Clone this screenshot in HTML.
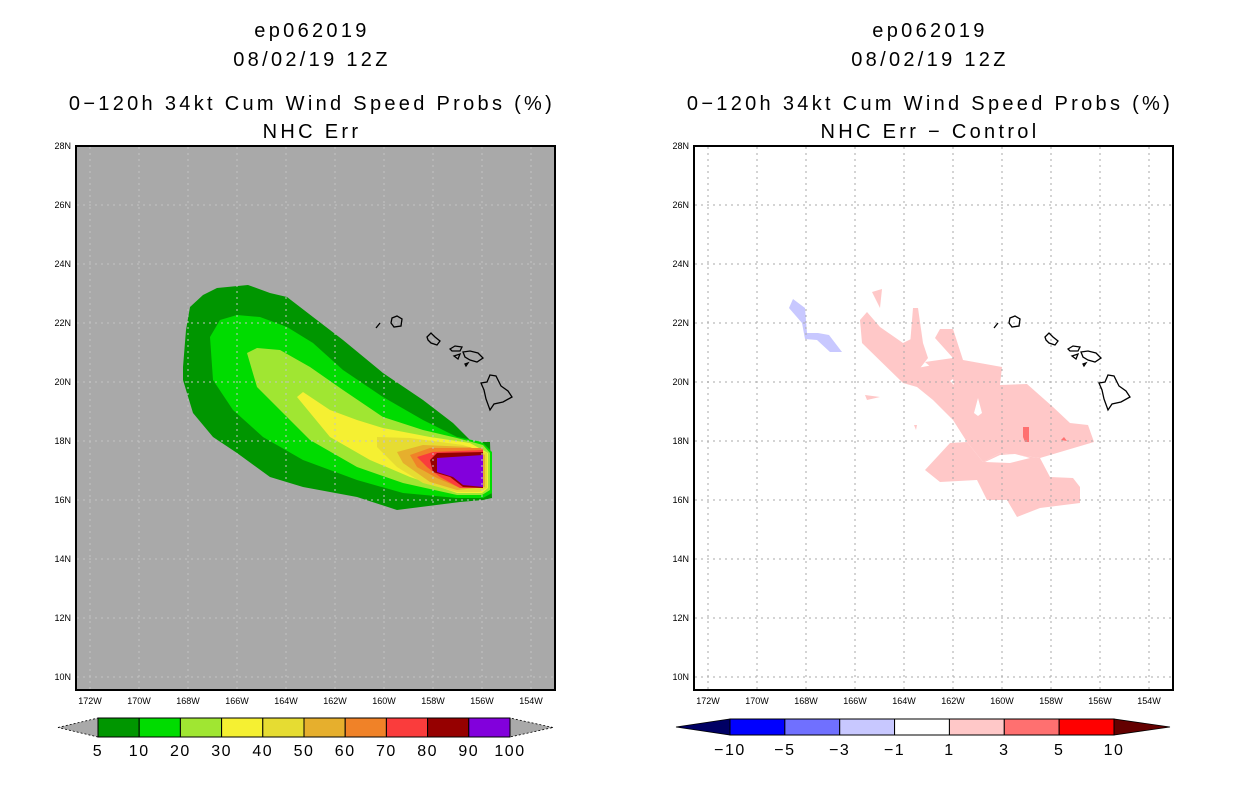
<!DOCTYPE html>
<html><head><meta charset="utf-8"><style>
body{margin:0;background:#fff;width:1236px;height:800px;overflow:hidden}
svg text{font-family:"Liberation Sans",sans-serif}
.tt{letter-spacing:3.3px}
</style></head><body>
<svg id="s" width="1236" height="800" xmlns="http://www.w3.org/2000/svg">
<g font-size="20" text-anchor="middle" fill="#000" class="tt">
<text x="312" y="37">ep062019</text>
<text x="312" y="66">08/02/19 12Z</text>
<text x="312" y="110">0−120h 34kt Cum Wind Speed Probs (%)</text>
<text x="312" y="138">NHC Err</text>
<text x="930" y="37">ep062019</text>
<text x="930" y="66">08/02/19 12Z</text>
<text x="930" y="110">0−120h 34kt Cum Wind Speed Probs (%)</text>
<text x="930" y="138">NHC Err − Control</text>
</g>
<rect x="76" y="146" width="479" height="544" fill="#a9a9a9"/>
<rect x="694" y="146" width="479" height="544" fill="#fff"/>
<g id="leftc"></g>
<g id="rightc"></g>
<g id="grid"></g>
<g id="islands" fill="none" stroke="#000" stroke-width="1.3"></g>
<rect x="76" y="146" width="479" height="544" fill="none" stroke="#000" stroke-width="2"/>
<rect x="694" y="146" width="479" height="544" fill="none" stroke="#000" stroke-width="2"/>
<g id="ticks" font-size="9"></g>
<g id="cbars"></g>
</svg>
<script>
const lonTicks=[172,170,168,166,164,162,160,158,156,154];
const latTicks=[28,26,24,22,20,18,16,14,12,10];
const probLevels=["5","10","20","30","40","50","60","70","80","90","100"];
const probColors=["#009600","#00dc00","#a0e632","#f5f032","#e6dc32","#e6af2d","#f08228","#fa3c3c","#960000","#8200dc"];
const diffLevels=["−10","−5","−3","−1","1","3","5","10"];
const diffColors=["#0000ff","#7070ff","#c8c8ff","#ffffff","#ffc8c8","#ff7070","#ff0000"];
const diffEnds=["#000064","#640000"];
const probContours=[
[[183,367],[186,330],[190,307],[203,295],[217,288],[248,285],[270,293],[287,297],[313,317],[343,340],[383,373],[423,400],[453,423],[472,442],[490,442],[492,498],[483,500],[460,502],[397,510],[357,497],[303,487],[270,477],[237,453],[213,437],[193,413],[183,380]],
[[210,337],[220,320],[237,315],[260,317],[287,327],[313,343],[343,370],[383,397],[423,420],[457,437],[482,442],[492,452],[492,493],[483,498],[457,498],[403,493],[357,480],[303,460],[263,437],[233,410],[213,380]],
[[247,353],[257,348],[280,350],[310,367],[343,390],[383,417],[423,430],[457,438],[483,445],[490,453],[490,490],[482,495],[457,495],[403,483],[357,467],[310,440],[280,410],[257,387]],
[[297,397],[303,392],[330,410],[357,420],[383,428],[430,437],[470,443],[488,453],[488,488],[482,493],[457,493],[410,477],[370,460],[330,437]],
[[377,437],[410,438],[463,445],[487,453],[487,488],[480,492],[457,492],[423,483],[397,467],[377,447]],
[[397,452],[423,445],[470,447],[485,455],[485,487],[457,490],[430,482],[403,463]],
[[410,455],[430,448],[483,448],[483,488],[460,488],[437,478],[417,467]],
[[417,457],[433,452],[483,450],[483,488],[460,488],[440,477],[427,467]],
[[430,460],[437,453],[483,452],[483,488],[463,487],[450,477],[433,472]],
[[437,458],[483,455],[483,487],[463,485],[453,477],[437,472]]];
const diffShapes=[
{c:4,p:[[860,320],[867,312],[880,327],[903,343],[913,338],[917,370],[903,383],[862,343]]},
{c:4,p:[[913,308],[918,308],[923,343],[928,358],[917,372],[910,345]]},
{c:4,p:[[935,338],[940,329],[953,329],[963,360],[1002,367],[1000,385],[960,392],[925,362],[953,358]]},
{c:4,p:[[903,383],[917,368],[960,360],[1000,385],[1027,384],[1053,407],[1070,423],[1088,425],[1094,442],[1067,450],[1040,458],[1000,453],[983,462],[967,442],[953,420],[933,400],[917,387]]},
{c:4,p:[[925,470],[950,443],[967,442],[983,462],[1000,453],[1040,458],[1050,477],[1073,478],[1080,487],[1080,503],[1040,508],[1017,517],[1007,500],[987,500],[977,480],[940,482]]},
{c:3,p:[[974,413],[978,398],[982,413],[978,416]]},
{c:3,p:[[985,462],[1000,455],[1015,454],[1030,458],[1010,463]]},
{c:3,p:[[950,381],[953,379],[954,385]]},
{c:4,p:[[872,292],[882,289],[880,308]]},{c:4,p:[[865,395],[880,397],[867,400]]},{c:4,p:[[914,425],[917,425],[916,430]]},
{c:5,p:[[1023,427],[1029,427],[1029,442],[1025,442],[1023,437]]},{c:5,p:[[1061,440],[1064,437],[1067,441]]},
{c:2,p:[[789,308],[793,299],[805,308],[807,333],[818,333],[829,335],[842,352],[830,352],[817,340],[805,339],[802,323]]}];
const islands=[[[376,328],[380,323]],[[392,318],[397,316],[402,319],[401,326],[394,327],[391,323]],
[[427,337],[431,333],[435,337],[440,341],[437,345],[431,343],[428,340]],
[[450,349],[455,346],[462,347],[460,351],[452,351]],[[454,356],[460,354],[458,359]],
[[463,352],[470,351],[478,353],[483,358],[477,362],[470,360],[465,357]],[[465,364],[468,363],[466,366]],
[[490,375],[496,376],[501,386],[508,391],[512,397],[503,402],[494,404],[490,410],[486,399],[484,390],[481,383],[487,382]]];
const S=document.getElementById('s'),NS='http://www.w3.org/2000/svg';
function mk(t,a,p){const e=document.createElementNS(NS,t);for(const k in a)e.setAttribute(k,a[k]);p.appendChild(e);return e;}
const X=w=>237+(166-w)*24.5, Y=l=>323+(22-l)*29.5;
const pts=(p,dx)=>p.map(q=>(q[0]+dx)+','+q[1]).join(' ');
const lc=document.getElementById('leftc');
probContours.forEach((p,i)=>{const e=mk('polygon',{points:pts(p,0),fill:probColors[i]},lc);

});
const rc=document.getElementById('rightc');
diffShapes.forEach((d,i)=>{const e=mk('polygon',{points:pts(d.p,0),fill:diffColors[d.c]},rc);

});
const g=document.getElementById('grid'),tk=document.getElementById('ticks');
[0,618].forEach(dx=>{
 lonTicks.forEach(w=>{const x=X(w)+dx;
  const l=mk('line',{x1:x,x2:x,y1:147,y2:689,stroke:dx?'#aaa':'#c4c4c4','stroke-dasharray':'2,4','stroke-width':1},g);
  
  
  const t=mk('text',{x:x,y:704,'text-anchor':'middle'},tk);t.textContent=w+'W';
  
  });
 latTicks.forEach(a=>{const y=Y(a);
  const l=mk('line',{x1:77+dx,x2:554+dx,y1:y,y2:y,stroke:dx?'#aaa':'#c4c4c4','stroke-dasharray':'2,4','stroke-width':1},g);
  
  
  const t=mk('text',{x:71+dx,y:y+3,'text-anchor':'end'},tk);t.textContent=a+'N';
  
  });
 const ig=document.getElementById('islands');
 islands.forEach(p=>{const e=mk('polygon',{points:pts(p,dx)},ig);
  
  });
});
const cb=document.getElementById('cbars');
{const x0=98,x1=510,w=(x1-x0)/probColors.length,y0=718,y1=737,ym=727.5;
 let e=mk('polygon',{points:`58,${ym} ${x0},${y0} ${x0},${y1}`,fill:'#a9a9a9',stroke:'#000','stroke-width':0.8,'stroke-dasharray':'2,2'},cb);
 
 
 e=mk('polygon',{points:`553,${ym} ${x1},${y0} ${x1},${y1}`,fill:'#a9a9a9',stroke:'#000','stroke-width':0.8,'stroke-dasharray':'2,2'},cb);
 
 
 probColors.forEach((c,i)=>{const r=mk('rect',{x:x0+i*w,y:y0,width:w,height:y1-y0,fill:c,stroke:'#000','stroke-width':1},cb);
  
  });
 probLevels.forEach((l,i)=>{const t=mk('text',{x:x0+i*w,y:756,'text-anchor':'middle','font-size':16,'letter-spacing':'1.5'},cb);t.textContent=l;
  
  });}
{const x0=730,x1=1114,w=(x1-x0)/diffColors.length,y0=719,y1=735,ym=727;
 let e=mk('polygon',{points:`676,${ym} ${x0},${y0} ${x0},${y1}`,fill:diffEnds[0],stroke:'#000','stroke-width':0.8},cb);
 
 
 e=mk('polygon',{points:`1170,${ym} ${x1},${y0} ${x1},${y1}`,fill:diffEnds[1],stroke:'#000','stroke-width':0.8},cb);
 
 
 diffColors.forEach((c,i)=>{const r=mk('rect',{x:x0+i*w,y:y0,width:w,height:y1-y0,fill:c,stroke:'#000','stroke-width':1},cb);
  
  });
 diffLevels.forEach((l,i)=>{const t=mk('text',{x:x0+i*w,y:755,'text-anchor':'middle','font-size':16,'letter-spacing':'1.5'},cb);t.textContent=l;
  
  });}
</script>
</body></html>
